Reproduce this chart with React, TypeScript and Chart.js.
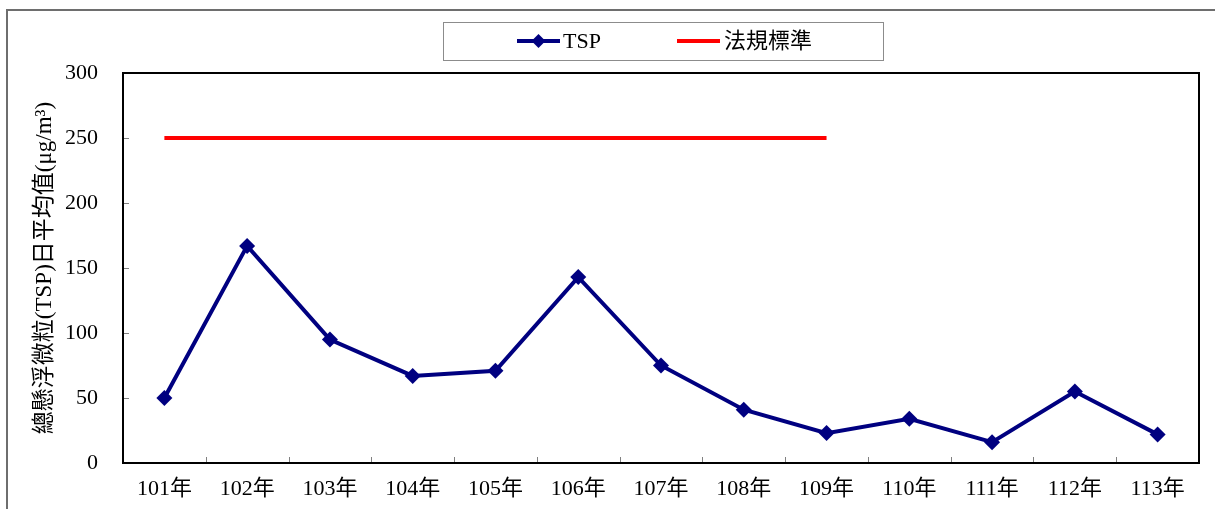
import React, { useEffect, useRef } from "react";
import { Chart, registerables } from "chart.js";

Chart.register(...registerables);

const categories = ["101年", "102年", "103年", "104年", "105年", "106年", "107年", "108年", "109年", "110年", "111年", "112年", "113年"];
const tspValues = [50, 167, 95, 67, 71, 143, 75, 41, 23, 34, 16, 55, 22];
const standardValues = [250, 250, 250, 250, 250, 250, 250, 250, 250, null, null, null, null];
const yTicks = [0, 50, 100, 150, 200, 250, 300];
const seriesNames = ["TSP", "法規標準"];
const yTitle = "總懸浮微粒(TSP)日平均值(μg/m³)";

const FONT = "'Liberation Serif', 'Times New Roman', 'Noto Sans CJK TC', serif";
const NAVY = "#000080";
const RED = "#ff0000";

const decorPlugin = {
  id: "decor",
  beforeDraw(chart: any) {
    const ctx = chart.ctx;
    ctx.save();
    ctx.fillStyle = "#ffffff";
    ctx.fillRect(0, 0, chart.width, chart.height);
    ctx.strokeStyle = "#6e6e6e";
    ctx.lineWidth = 2;
    ctx.beginPath();
    ctx.moveTo(7, chart.height + 5);
    ctx.lineTo(7, 10);
    ctx.lineTo(chart.width + 5, 10);
    ctx.stroke();
    ctx.restore();
  },
  afterDraw(chart: any) {
    const ctx = chart.ctx;
    const a = chart.chartArea;
    const xs = chart.scales.x;
    const ys = chart.scales.y;
    ctx.save();
    ctx.strokeStyle = "#808080";
    ctx.lineWidth = 1;
    ctx.beginPath();
    const n = categories.length;
    for (let i = 1; i < n; i++) {
      const x = Math.round((xs.getPixelForValue(i - 1) + xs.getPixelForValue(i)) / 2) + 0.5;
      ctx.moveTo(x, a.bottom);
      ctx.lineTo(x, a.bottom - 6);
    }
    yTicks.forEach((v) => {
      const y = Math.round(ys.getPixelForValue(v)) + 0.5;
      ctx.moveTo(a.left, y);
      ctx.lineTo(a.left + 6, y);
    });
    ctx.stroke();
    ctx.strokeStyle = "#000000";
    ctx.lineWidth = 2;
    ctx.strokeRect(a.left, a.top, a.right - a.left, a.bottom - a.top);

    ctx.strokeStyle = "#8c8c8c";
    ctx.lineWidth = 1;
    ctx.strokeRect(443.5, 22.5, 440, 38);
    const ly = 41;
    ctx.strokeStyle = NAVY;
    ctx.lineWidth = 4;
    ctx.beginPath();
    ctx.moveTo(517, ly);
    ctx.lineTo(560, ly);
    ctx.stroke();
    ctx.fillStyle = NAVY;
    ctx.beginPath();
    const cx = 538.5, r = 7;
    ctx.moveTo(cx, ly - r);
    ctx.lineTo(cx + r, ly);
    ctx.lineTo(cx, ly + r);
    ctx.lineTo(cx - r, ly);
    ctx.closePath();
    ctx.fill();
    ctx.strokeStyle = RED;
    ctx.beginPath();
    ctx.moveTo(677, ly);
    ctx.lineTo(720, ly);
    ctx.stroke();
    ctx.fillStyle = "#000000";
    ctx.font = `22px ${FONT}`;
    ctx.textBaseline = "middle";
    ctx.textAlign = "left";
    ctx.fillText(seriesNames[0], 563, ly + 1);
    ctx.fillText(seriesNames[1], 724, ly + 1);
    ctx.restore();
  },
};

export default function App() {
  const ref = useRef<HTMLCanvasElement>(null);
  useEffect(() => {
    if (!ref.current) return;
    const chart = new Chart(ref.current, {
      type: "line",
      data: {
        labels: categories,
        datasets: [
          {
            label: seriesNames[0],
            data: tspValues,
            borderColor: NAVY,
            backgroundColor: NAVY,
            borderWidth: 4,
            pointStyle: "rectRot",
            pointRadius: 8,
            pointHoverRadius: 8,
            pointBorderWidth: 0,
            tension: 0,
          },
          {
            label: seriesNames[1],
            data: standardValues,
            borderColor: RED,
            backgroundColor: RED,
            borderWidth: 4,
            pointRadius: 0,
            pointHoverRadius: 0,
            spanGaps: false,
            tension: 0,
          },
        ],
      },
      options: {
        responsive: false,
        animation: false,
        layout: { padding: { left: 0, right: 16, top: 73, bottom: 0 } },
        plugins: {
          legend: { display: false },
          tooltip: { enabled: false },
          title: { display: false },
        },
        scales: {
          x: {
            offset: true,
            grid: { display: false, drawTicks: false },
            border: { display: false },
            ticks: {
              color: "#000000",
              font: { family: FONT, size: 22 },
              padding: 13,
              maxRotation: 0,
              autoSkip: false,
            },
            afterFit: (s: any) => {
              s.height = 46;
            },
          },
          y: {
            min: 0,
            max: 300,
            grid: { display: false, drawTicks: false },
            border: { display: false },
            afterBuildTicks: (s: any) => {
              s.ticks = yTicks.map((v) => ({ value: v }));
            },
            ticks: {
              color: "#000000",
              font: { family: FONT, size: 22 },
              padding: 25,
            },
            title: {
              display: true,
              text: yTitle,
              color: "#000000",
              font: { family: FONT, size: 23 },
              padding: { top: 31, bottom: 0 },
            },
            afterFit: (s: any) => {
              s.width = 123;
            },
          },
        },
      },
      plugins: [decorPlugin],
    });
    return () => chart.destroy();
  }, []);
  return (
    <div style={{ position: "absolute", left: 0, top: 0, width: 1215, height: 509 }}>
      <canvas ref={ref} width={1215} height={509} style={{ display: "block" }} />
    </div>
  );
}
